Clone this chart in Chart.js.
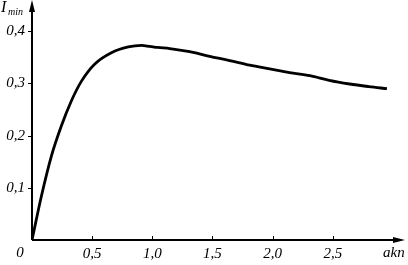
<!DOCTYPE html>
<html>
<head>
<meta charset="utf-8">
<script src="https://cdn.jsdelivr.net/npm/chart.js@4"></script>
<style>
  html, body { margin: 0; padding: 0; background: #fff; }
  #wrap { width: 408px; height: 265px; }
</style>
</head>
<body>
<div id="wrap"><canvas id="myChart"></canvas></div>
<script>
'use strict';
// akn values (x) and I_min values (y)
const akn = [0, 0.077, 0.16, 0.243, 0.326, 0.41, 0.52, 0.66, 0.80, 0.91, 0.98, 1.045, 1.145, 1.31, 1.477, 1.643, 1.81, 1.975, 2.14, 2.31, 2.47, 2.64, 2.80, 2.95];
const iMin = [0, 0.083, 0.16, 0.218, 0.266, 0.304, 0.337, 0.359, 0.370, 0.373, 0.371, 0.369, 0.367, 0.361, 0.352, 0.344, 0.335, 0.328, 0.321, 0.315, 0.306, 0.299, 0.294, 0.290];
const xTicks = [0.5, 1.0, 1.5, 2.0, 2.5];
const yTicks = [0.1, 0.2, 0.3, 0.4];
const xTitle = 'akn';
const yTitle = 'I';
const yTitleSub = 'min';

const FONT = '"Liberation Serif", "DejaVu Serif", serif';

function fmt(v) {
  return v.toFixed(1).replace('.', ',');
}

const points = akn.map((a, i) => ({x: a, y: iMin[i]}));

// axes with arrows, inward ticks, the lone "0" and the axis titles
const axesPlugin = {
  id: 'axesPlugin',
  afterDraw(chart) {
    const ctx = chart.ctx;
    const xs = chart.scales.x;
    const ys = chart.scales.y;
    const x0 = xs.getPixelForValue(0);
    const y0 = ys.getPixelForValue(0);
    const right = chart.chartArea.right;
    const top = chart.chartArea.top;
    ctx.save();
    ctx.strokeStyle = '#000';
    ctx.fillStyle = '#000';
    ctx.lineWidth = 2;
    ctx.beginPath();
    ctx.moveTo(x0, y0);
    ctx.lineTo(right - 6, y0);
    ctx.moveTo(x0, y0);
    ctx.lineTo(x0, top + 6);
    ctx.stroke();
    // arrow heads
    ctx.beginPath();
    ctx.moveTo(right, y0);
    ctx.lineTo(right - 12, y0 - 3);
    ctx.lineTo(right - 12, y0 + 3);
    ctx.closePath();
    ctx.fill();
    ctx.beginPath();
    ctx.moveTo(x0, top);
    ctx.lineTo(x0 - 3, top + 12);
    ctx.lineTo(x0 + 3, top + 12);
    ctx.closePath();
    ctx.fill();
    // ticks
    ctx.lineWidth = 1;
    ctx.beginPath();
    xTicks.forEach(v => {
      const px = Math.round(xs.getPixelForValue(v)) + 0.5;
      ctx.moveTo(px, y0);
      ctx.lineTo(px, y0 - 4);
    });
    yTicks.forEach(v => {
      const py = Math.round(ys.getPixelForValue(v)) + 0.5;
      ctx.moveTo(x0, py);
      ctx.lineTo(x0 - 4, py);
    });
    ctx.stroke();
    // "0" at the origin
    ctx.font = 'italic 15px ' + FONT;
    ctx.textAlign = 'center';
    ctx.textBaseline = 'middle';
    ctx.fillText('0', x0 - 12, y0 + 13);
    // x title
    ctx.textAlign = 'left';
    ctx.fillText(xTitle, right - 22, y0 + 13);
    // y title with subscript
    ctx.textBaseline = 'alphabetic';
    ctx.font = 'italic 16px ' + FONT;
    ctx.fillText(yTitle, 1, 12);
    ctx.font = 'italic 10px ' + FONT;
    ctx.fillText(yTitleSub, 8, 15);
    ctx.restore();
  }
};

const ctx = document.getElementById('myChart').getContext('2d');
const chart = new Chart(ctx, {
  type: 'scatter',
  data: {
    datasets: [{
      data: points,
      showLine: true,
      borderColor: '#000',
      borderWidth: 2.8,
      pointRadius: 0,
      tension: 0.4,
      cubicInterpolationMode: 'monotone'
    }]
  },
  options: {
    responsive: true,
    maintainAspectRatio: false,
    animation: false,
    layout: {padding: {top: 0, right: 3, left: 0, bottom: 0}},
    plugins: {legend: {display: false}, tooltip: {enabled: false}},
    scales: {
      x: {
        type: 'linear',
        min: 0,
        max: 3.1,
        border: {display: false},
        grid: {display: false, drawTicks: false},
        afterBuildTicks(scale) {
          scale.ticks = xTicks.map(v => ({value: v}));
        },
        afterFit(scale) { scale.height = 25; },
        ticks: {
          padding: 5,
          maxRotation: 0,
          color: '#000',
          font: {family: FONT, size: 15, style: 'italic'},
          callback: v => fmt(v)
        }
      },
      y: {
        type: 'linear',
        min: 0,
        max: 0.46,
        border: {display: false},
        grid: {display: false, drawTicks: false},
        afterBuildTicks(scale) {
          scale.ticks = yTicks.map(v => ({value: v}));
        },
        afterFit(scale) {
          scale.width = 32;
          scale.paddingTop = 0;
          scale.paddingBottom = 0;
        },
        ticks: {
          padding: 7,
          color: '#000',
          font: {family: FONT, size: 15, style: 'italic'},
          callback: v => fmt(v)
        }
      }
    }
  },
  plugins: [axesPlugin]
});
</script>
</body>
</html>
